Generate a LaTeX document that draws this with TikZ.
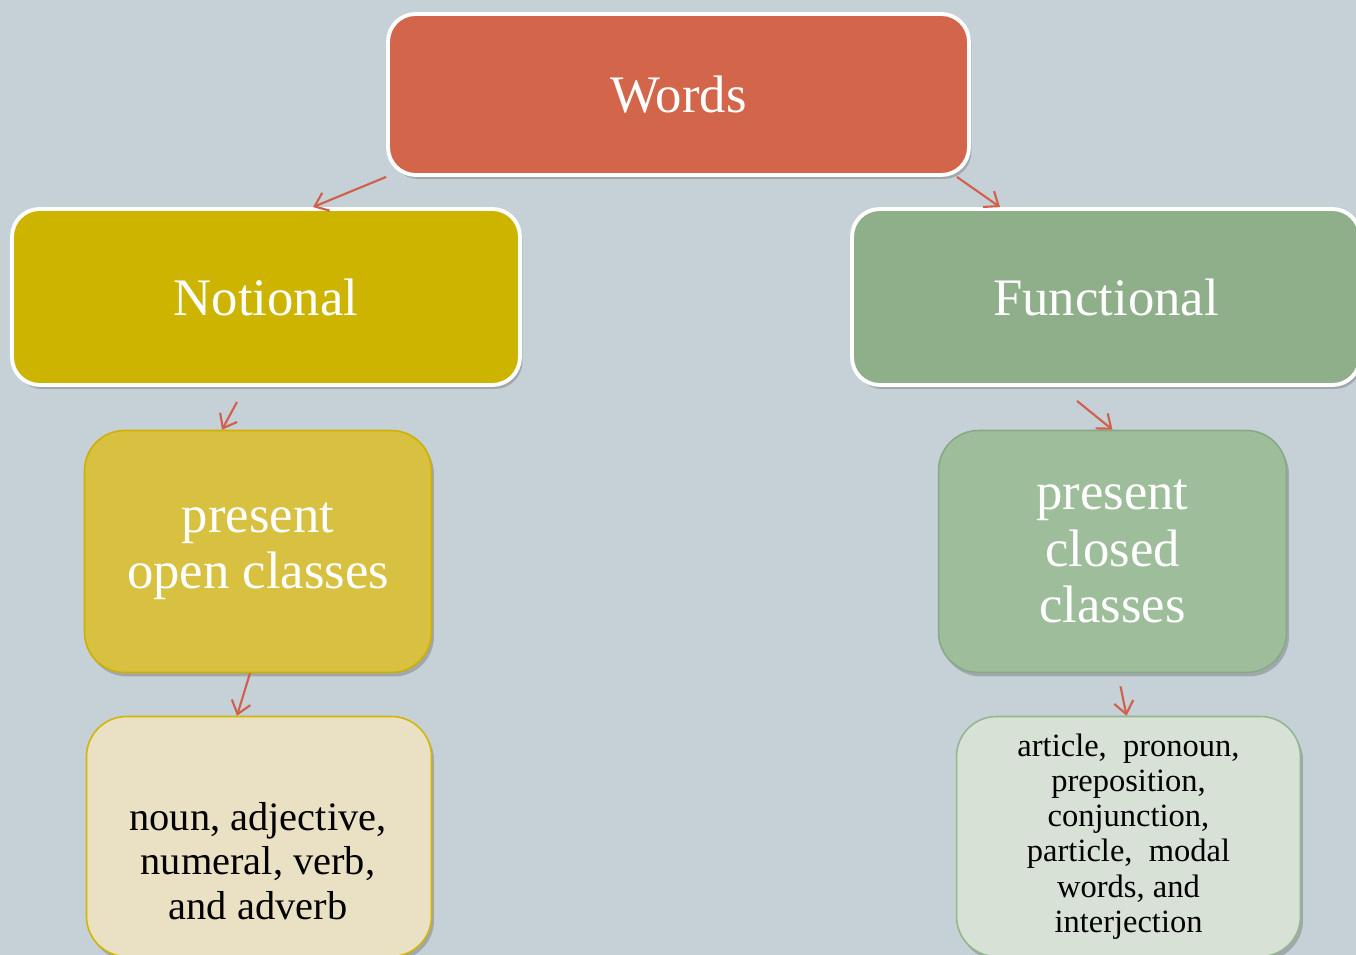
\documentclass[tikz,border=0pt]{standalone}
\usepackage{fontspec}
\setmainfont{Liberation Serif}
\usetikzlibrary{positioning,calc,shadows,arrows.meta}

\definecolor{bgcol}{RGB}{197,209,215}
\definecolor{wordscol}{RGB}{210,101,74}
\definecolor{notcol}{RGB}{205,180,0}
\definecolor{funcol}{RGB}{143,175,138}
\definecolor{opencol}{RGB}{216,192,64}
\definecolor{openline}{RGB}{205,176,0}
\definecolor{closedcol}{RGB}{158,189,154}
\definecolor{closedline}{RGB}{137,168,134}
\definecolor{nouncol}{RGB}{234,225,196}
\definecolor{nounline}{RGB}{211,182,0}
\definecolor{artcol}{RGB}{215,225,213}
\definecolor{artline}{RGB}{146,184,142}
\definecolor{arrcol}{RGB}{208,96,74}

\tikzset{
  shade box/.style={drop shadow={shadow xshift=0.05cm,shadow yshift=-0.08cm,opacity=0.3,fill=black!70}},
  topbox/.style={shade box,draw=white,line width=2.2pt,rounded corners=0.55cm,
    align=center,text=white,inner sep=0pt,font=\fontsize{30}{34}\selectfont},
  midbox/.style={shade box,line width=0.9pt,rounded corners=0.8cm,
    align=center,text=white,inner sep=0pt,font=\fontsize{30}{32}\selectfont},
  lowbox/.style={shade box,line width=0.9pt,rounded corners=0.8cm,
    align=center,inner sep=0pt},
  arr/.style={draw=arrcol,line width=1.2pt,-{Straight Barb[length=7pt,width=11pt]}}
}

\begin{document}
\begin{tikzpicture}[x=0.02cm,y=-0.02cm]
  \useasboundingbox (0,0) rectangle (1356,955);
  \clip (0,0) rectangle (1356,955);
  \fill[bgcol] (0,0) rectangle (1356,955);

  % first level
  \node[topbox,fill=wordscol,minimum width=11.62cm,minimum height=3.22cm]
    (words) at (678.5,94.5) {Words};
  % second level
  \node[topbox,fill=notcol,minimum width=10.16cm,minimum height=3.52cm]
    (notional) at (266,297) {Notional};
  \node[topbox,fill=funcol,minimum width=10.16cm,minimum height=3.52cm]
    (functional) at (1106,297) {Functional};
  % classes
  \node[midbox,fill=opencol,draw=openline,minimum width=6.94cm,minimum height=4.84cm]
    (open) at (258,551.5) {present\\open classes};
  \node[midbox,fill=closedcol,draw=closedline,minimum width=6.96cm,minimum height=4.84cm]
    (closed) at (1112.5,551.5) {present\\closed\\classes};
  % members
  \node[lowbox,fill=nouncol,draw=nounline,minimum width=6.9cm,minimum height=4.8cm]
    (noun) at (259,836.5) {};
  \node[align=center,font=\fontsize{23}{25.2}\selectfont]
    (nountext) at (258,861) {noun, adjective,\\numeral, verb,\\and adverb};
  \node[lowbox,fill=artcol,draw=artline,minimum width=6.88cm,minimum height=4.8cm,
    font=\fontsize{18.5}{20}\selectfont]
    (article) at (1128.5,836.5) {article,\ \ pronoun,\\preposition,\\conjunction,\\particle,\ \ modal\\words, and\\interjection};

  \begin{scope}[arr]
    \draw (words.south west) -- ($(notional.north)+(47,0)$);
    \draw ($(words.south east)+(-14,0)$) -- ($(functional.north)+(-106,0)$);
    \draw ($(notional.south)+(-29,15)$) -- ($(open.north)+(-36,0)$);
    \draw ($(functional.south)+(-29,14)$) -- (closed.north);
    \draw ($(open.south)+(-8,0)$) -- ($(noun.north)+(-22,0)$);
    \draw ($(closed.south)+(8,13)$) -- ($(article.north)+(-2,0)$);
  \end{scope}
\end{tikzpicture}
\end{document}
